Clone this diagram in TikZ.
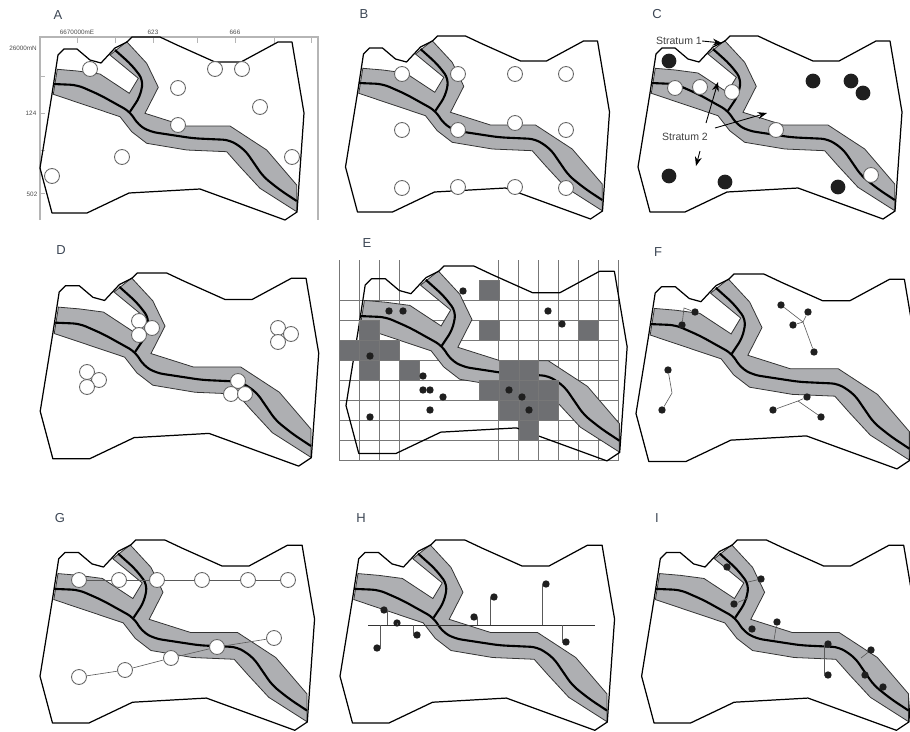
\documentclass[tikz,border=0pt]{standalone}
\usepackage{fontspec}
\setmainfont{Liberation Sans}
\usetikzlibrary{arrows.meta}
\definecolor{bandgray}{HTML}{AEAFB2}
\definecolor{cellgray}{HTML}{6E6F72}
\definecolor{gridgray}{HTML}{777777}
\definecolor{framegray}{HTML}{B5B5B5}
\definecolor{labelink}{HTML}{3C4654}
\tikzset{
  panellabel/.style={text=labelink,inner sep=0pt,font=\fontsize{7.4pt}{8pt}\selectfont},
  axislabel/.style={text=black!70,inner sep=0pt,font=\fontsize{3.6pt}{4pt}\selectfont},
  stratumlabel/.style={text=black!75,inner sep=0pt,font=\fontsize{6pt}{7pt}\selectfont},
  opensite/.style={draw=black!60,fill=white,circle,line width=0.5pt,minimum size=8.5pt,inner sep=0pt},
  fullsite/.style={fill=black!88,circle,minimum size=8.4pt,inner sep=0pt},
  dotsite/.style={fill=black!88,circle,minimum size=4.2pt,inner sep=0pt},
  link/.style={draw=black!65,line width=0.35pt},
  gridline/.style={draw=gridgray,line width=0.55pt},
  gridcell/.style={fill=cellgray,draw=gridgray,line width=0.3pt},
  surveymap/.pic={
    \filldraw[fill=bandgray,draw=black!80,line width=0.45pt]
      (57.3,69.3)--(77.3,71)--(100,74)--(129.3,93.3)--(138.3,78.3)--(110,55)--(126.7,41.7)
      --(146.7,63.3)--(158.3,87.3)--(145,113.3)--(185,126)--(230,126)--(266.7,150)--(296.7,185)
      --(296.7,211.7)--(260,188.3)--(240,166.7)--(226.7,151.7)--(186.7,150)--(146.7,143.3)
      --(131.7,131.7)--(120,116.7)--(53.3,94.3)--cycle;
    \draw[line width=0.7pt,line join=round]
      (58,55)--(64,49)--(77,49)--(90,60)--(101,63)--(115,48)--(127,42)--(132,37)--(160,37)
      --(177,45)--(215,62)--(241,62)--(278,42)--(292,42)--(304,113)--(297,212)--(285,220)
      --(200,189)--(129,193)--(87,213)--(52,213)--(40,168)--(52,94)--cycle;
    \draw[line width=1.2pt,rounded corners=4pt]
      (53.3,84)--(77.3,85)--(100,95)--(130,111.7)--(138.3,125)--(150,131.7)--(193.3,138.3)
      --(230,140)--(245,150)--(263.3,176.7)--(280,190)--(296.7,201);
    \draw[line width=1.2pt,rounded corners=4pt]
      (115,50)--(131.7,65)--(143.3,80)--(140,96.7)--(130,111.7);
  }
}

\begin{document}
\begin{tikzpicture}[x=0.02cm,y=-0.02cm,>=Stealth]
  \useasboundingbox (0,0) rectangle (910,731);

  % A
  \draw[framegray,line width=0.6pt] (40,220)--(40,37)--(318,37)--(318,220);
  \foreach \tx in {77,115,153,197,235,274,311} \draw[framegray,line width=0.5pt] (\tx,37)--(\tx,43);
  \foreach \ty in {76,113,150,193} \draw[framegray,line width=0.5pt] (40,\ty)--(45,\ty);
  \pic at (0,0) {surveymap};
  \node[panellabel] (labA) at (58,15) {A};
  \node[axislabel] (axisE) at (77,32) {6670000mE};
  \node[axislabel] (axisM) at (153,32) {623};
  \node[axislabel] (axisR) at (235,32) {666};
  \node[axislabel] (axisN) at (23,48) {26000mN};
  \node[axislabel] (axisP) at (31,113) {124};
  \node[axislabel] (axisQ) at (32,194) {502};
  \foreach \sx/\sy [count=\si] in {90/69,215/69,242/69,178/88,260/107,178/125,122/157,292/157,52/176}
    \node[opensite] (a\si) at (\sx,\sy) {};

  % B
  \pic[shift={(305.5,-1)}] {surveymap};
  \node[panellabel] (labB) at (364,14) {B};
  \foreach \sx/\sy [count=\si] in {402/74,458/74,515/74,566/74,402/130,458/130,515/123,566/130,402/188,458/187,515/187,566/188}
    \node[opensite] (b\si) at (\sx,\sy) {};

  % C
  \pic[shift={(598,-1)}] {surveymap};
  \node[panellabel] (labC) at (657,14) {C};
  \foreach \sx/\sy [count=\si] in {669/61,813/81,851/81,863/93,669/176,725/182,838/187}
    \node[fullsite] (cf\si) at (\sx,\sy) {};
  \foreach \sx/\sy [count=\si] in {675/88,700/87,732/92,776/130,871/175}
    \node[opensite] (co\si) at (\sx,\sy) {};
  \node[stratumlabel] (strat1) at (679,41) {Stratum 1};
  \node[stratumlabel] (strat2) at (685,137) {Stratum 2};
  \coordinate (s1end) at (722,43);
  \coordinate (s2a) at (706,123);
  \coordinate (s2aend) at (718,82);
  \coordinate (s2b) at (715,128);
  \coordinate (s2bend) at (767,113);
  \coordinate (s2c) at (700,151);
  \coordinate (s2cend) at (696,166);
  \draw[->,line width=0.5pt] (strat1.east)--(s1end);
  \draw[->,line width=0.5pt] (s2a)--(s2aend);
  \draw[->,line width=0.5pt] (s2b)--(s2bend);
  \draw[->,line width=0.5pt] (s2c)--(s2cend);

  % D
  \pic[shift={(-2,234)},scale=1.055] {surveymap};
  \node[panellabel] (labD) at (61,250) {D};
  \foreach \sx/\sy [count=\si] in {139/321,152/328,139/335,278/328,291/334,278/342,87/372,99/380,87/387,238/381,231/394,245/394}
    \node[opensite] (d\si) at (\sx,\sy) {};

  % E
  \foreach \gk in {0,1,2,3,8,9,...,14}
    \draw[gridline] ({339.4+19.93*\gk},260)--({339.4+19.93*\gk},461);
  \foreach \gj in {0,...,8}
    \draw[gridline] (339.4,{300+20.1*\gj})--(618.4,{300+20.1*\gj});
  \pic[shift={(303.4,226.6)},scale=1.065] {surveymap};
  \foreach \gk/\gj in {7/-1,7/1,12/1,1/1,0/2,1/2,2/2,1/3,3/3,8/3,9/3,7/4,8/4,9/4,10/4,8/5,9/5,10/5,9/6}
    \path[gridcell] ({339.4+19.93*\gk},{300+20.1*\gj}) rectangle +(19.93,20.1);
  \node[panellabel] (labE) at (367,243) {E};
  \foreach \sx/\sy [count=\si] in {463/291,389/311,403/311,548/311,562/324,370/356,423/376,423/390,430/390,443/397,430/410,370/417,509/390,522/397,529/410}
    \node[dotsite] (e\si) at (\sx,\sy) {};

  % F
  \pic[shift={(593.4,234.6)},scale=1.065] {surveymap};
  \node[panellabel] (labF) at (658,252) {F};
  \foreach \sx/\sy [count=\si] in {695/312,682/325,781/305,808/312,793/325,814/352,668/370,662/410,807/397,773/410,821/417}
    \node[dotsite] (f\si) at (\sx,\sy) {};
  \coordinate (fj1) at (684,308);
  \coordinate (fj2) at (803,322);
  \coordinate (fj3) at (672,393);
  \coordinate (fj4) at (798,401);
  \draw[link] (f1)--(fj1)--(f2);
  \draw[link] (f3)--(fj2)--(f6);
  \draw[link] (f4)--(fj2)--(f5);
  \draw[link] (f7)--(fj3)--(f8);
  \draw[link] (f9)--(fj4)--(f10);
  \draw[link] (fj4)--(f11);

  % G
  \pic[shift={(-1.6,501.5)},scale=1.04] {surveymap};
  \node[panellabel] (labG) at (60,518) {G};
  \foreach \sx/\sy [count=\si] in {79/580,119/580,157/580,202/580,248/580,288/580,79/677,125/670,171/658,217/647,274/638}
    \node[opensite] (g\si) at (\sx,\sy) {};
  \draw[link] (g1)--(g2);
  \draw[link] (g2)--(g3);
  \draw[link] (g3)--(g4);
  \draw[link] (g4)--(g5);
  \draw[link] (g5)--(g6);
  \draw[link] (g7)--(g8);
  \draw[link] (g8)--(g9);
  \draw[link] (g9)--(g10);
  \draw[link] (g10)--(g11);

  % H
  \pic[shift={(298.4,501.5)},scale=1.04] {surveymap};
  \node[panellabel] (labH) at (361,518) {H};
  \coordinate (transL) at (368,625);
  \coordinate (transR) at (595,625);
  \draw[black!80,line width=0.5pt] (transL)--(transR);
  \foreach \sx/\sy/\bx [count=\si] in {384/610/387,397/623/397,417/635/413,377/648/380,474/617/477,494/597/490,546/584/542,566/642/562}{
    \node[dotsite] (h\si) at (\sx,\sy) {};
    \coordinate (hb\si) at (\bx,625);
    \coordinate (ht\si) at (\bx,\sy);
    \draw[link] (hb\si)--(ht\si)--(h\si);
  }

  % I
  \pic[shift={(600,501.5)},scale=1.04] {surveymap};
  \node[panellabel] (labI) at (657,518) {I};
  \foreach \sx/\sy [count=\si] in {727/567,761/579,734/604,752/629,777/622,828/644,828/675,871/650,865/675,883/687}
    \node[dotsite] (i\si) at (\sx,\sy) {};
  \coordinate (ib2) at (748,582);
  \coordinate (ib3) at (748,598);
  \coordinate (ib5) at (774,640);
  \coordinate (ic7) at (824,645);
  \coordinate (id7) at (824,675);
  \coordinate (ib8) at (861,658);
  \draw[link] (i2)--(ib2);
  \draw[link] (i3)--(ib3);
  \draw[link] (i5)--(ib5);
  \draw[link] (ic7)--(id7)--(i7);
  \draw[link] (i8)--(ib8);
\end{tikzpicture}
\end{document}
